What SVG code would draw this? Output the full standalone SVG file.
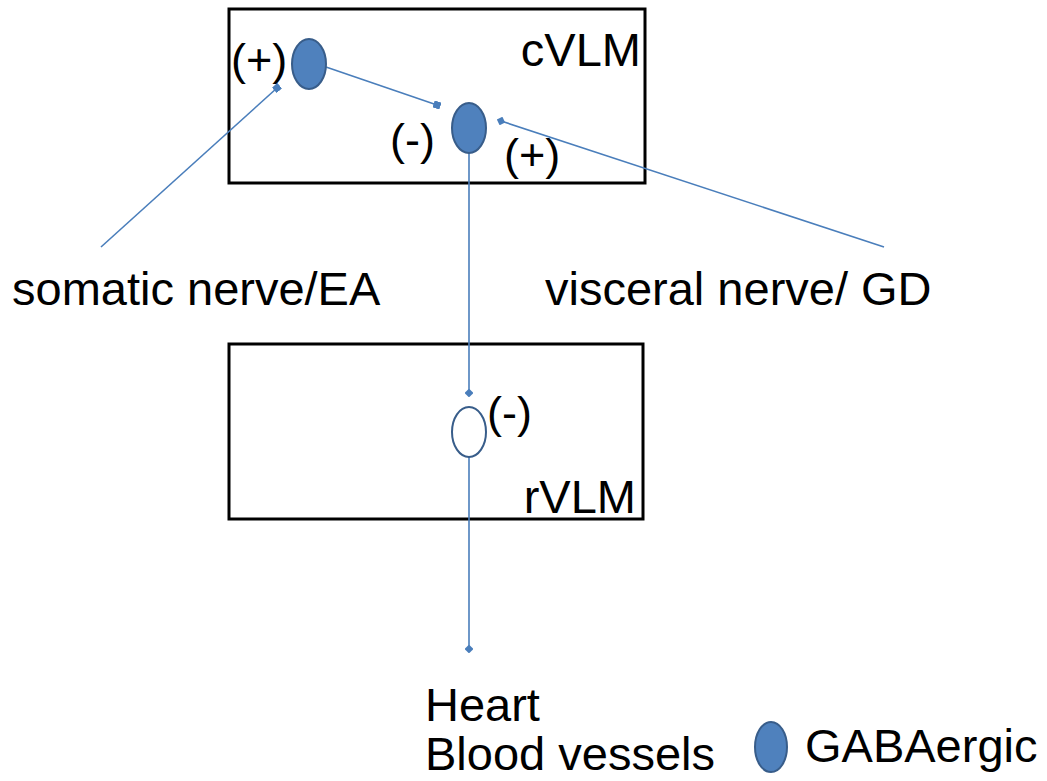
<svg xmlns="http://www.w3.org/2000/svg" width="1047" height="781" viewBox="0 0 1047 781">
<style>
.box{fill:none;stroke:#000;stroke-width:3}
.t{font-family:"Liberation Sans",Arial,sans-serif;font-size:47px;fill:#000}
.s{font-family:"Liberation Sans",Arial,sans-serif;font-size:45px;fill:#000}
.gaba{fill:#4f81bd;stroke:#385d8a;stroke-width:2}
.other{fill:#fff;stroke:#385d8a;stroke-width:2}
.c{stroke:#4a7ebb;stroke-width:1.6;fill:none}
</style>
<defs>
<marker id="sq" viewBox="0 0 10 10" refX="5" refY="5" markerWidth="4.5" markerHeight="4.5" orient="auto" markerUnits="strokeWidth">
<rect x="0" y="0" width="10" height="10" fill="#4a7ebb"/>
</marker>
<marker id="dm" viewBox="0 0 10 10" refX="5" refY="5" markerWidth="5.5" markerHeight="5.5" orient="auto" markerUnits="strokeWidth">
<path d="M0,5 L5,0 L10,5 L5,10 Z" fill="#4a7ebb"/>
</marker>
</defs>
<g id="cVLM">
<rect class="box" x="229" y="9" width="416" height="174"/>
<text class="t" x="641" y="66" text-anchor="end">cVLM</text>
</g>
<g id="rVLM">
<rect class="box" x="229" y="344" width="414" height="175"/>
<text class="t" x="636" y="513" text-anchor="end">rVLM</text>
</g>
<g id="connectors">
<line class="c" x1="326" y1="67" x2="437" y2="105" marker-end="url(#sq)"/>
<line class="c" x1="101" y1="247" x2="277" y2="88" marker-end="url(#sq)"/>
<line class="c" x1="884" y1="247" x2="501" y2="121" marker-end="url(#dm)"/>
<line class="c" x1="469" y1="153" x2="469" y2="393" marker-end="url(#dm)"/>
<line class="c" x1="469" y1="457" x2="469" y2="649" marker-end="url(#dm)"/>
</g>
<g id="neuron1">
<ellipse class="gaba" cx="309" cy="64" rx="17" ry="25"/>
<text class="s" x="231" y="75">(+)</text>
</g>
<g id="neuron2">
<ellipse class="gaba" cx="469" cy="128" rx="17" ry="25"/>
<text class="s" x="390" y="155">(-)</text>
<text class="s" x="504" y="170">(+)</text>
</g>
<g id="neuron3">
<ellipse class="other" cx="469" cy="432" rx="17" ry="25"/>
<text class="s" x="487" y="428">(-)</text>
</g>
<g id="somatic">
<text class="t" x="12" y="305">somatic nerve/EA</text>
</g>
<g id="visceral">
<text class="t" x="545" y="305">visceral nerve/ GD</text>
</g>
<g id="targets">
<text class="t" x="425" y="721">Heart</text>
<text class="t" x="425" y="770">Blood vessels</text>
</g>
<g id="legend">
<ellipse class="gaba" cx="771" cy="747" rx="16" ry="25"/>
<text class="t" x="805" y="762">GABAergic</text>
</g>
</svg>
